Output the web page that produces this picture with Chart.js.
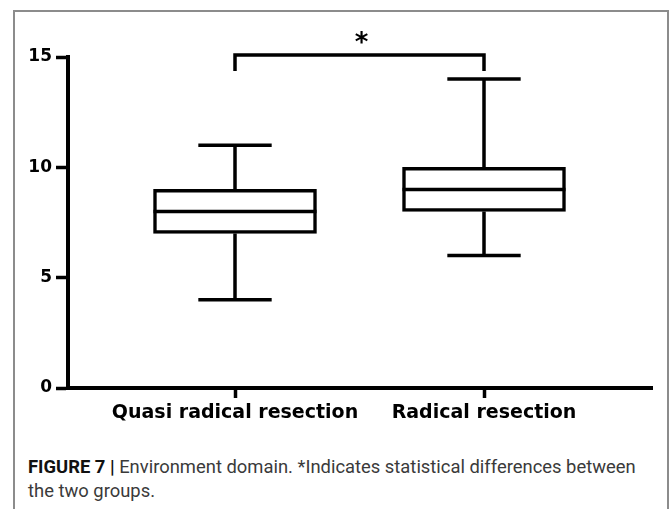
<!DOCTYPE html>
<html>
<head>
<meta charset="utf-8">
<script src="https://cdn.jsdelivr.net/npm/chart.js@4.4.1/dist/chart.umd.min.js"></script>
<style>
  body { margin: 0; background: #fff; width: 672px; height: 509px; overflow: hidden; position: relative; }
  #marco { position: absolute; left: 13px; top: 10px; width: 656px; height: 530px; border: 2px solid #8c8c8c; box-sizing: border-box; }
  #grafico { position: absolute; left: 0; top: 0; }
  #pie { position: absolute; left: 28px; top: 455px; white-space: nowrap; font-family: "Roboto", sans-serif; font-size: 18.4px; line-height: 24px; color: #3a3a3a; }
  #pie b { color: #111; }
</style>
</head>
<body>
<div id="marco"></div>
<canvas id="grafico" width="672" height="440"></canvas>
<div id="pie"><b>FIGURE 7 |</b> Environment domain. *Indicates statistical differences between<br>the two groups.</div>
<script>
// datos del box plot
const groups = ['Quasi radical resection', 'Radical resection'];
const positions = [0, 1];
const minValues = [4, 6];
const q1Values = [7, 8];
const medianValues = [8, 9];
const q3Values = [9, 10];
const maxValues = [11, 14];
const yTicks = [0, 5, 10, 15];

// corchete de significancia entre los dos grupos
const bracketTop = 15.09;
const bracketLeg = 14.36;
const starLevel = 15.87;

const bigotes = {
  id: 'bigotes',
  afterDatasetsDraw(chart) {
    const ctx = chart.ctx;
    const x = chart.scales.x;
    const y = chart.scales.y;
    const meta = chart.getDatasetMeta(0);
    ctx.save();
    ctx.strokeStyle = '#000';
    ctx.lineWidth = 3.5;
    ctx.lineCap = 'butt';
    meta.data.forEach(function (bar, i) {
      const cx = x.getPixelForValue(positions[i]);
      const half = bar.width / 2;
      const cap = bar.width * 0.45 / 2;
      ctx.beginPath();
      // mediana
      ctx.moveTo(cx - half, y.getPixelForValue(medianValues[i]));
      ctx.lineTo(cx + half, y.getPixelForValue(medianValues[i]));
      // bigote superior
      ctx.moveTo(cx, y.getPixelForValue(q3Values[i]));
      ctx.lineTo(cx, y.getPixelForValue(maxValues[i]));
      ctx.moveTo(cx - cap, y.getPixelForValue(maxValues[i]));
      ctx.lineTo(cx + cap, y.getPixelForValue(maxValues[i]));
      // bigote inferior
      ctx.moveTo(cx, y.getPixelForValue(q1Values[i]));
      ctx.lineTo(cx, y.getPixelForValue(minValues[i]));
      ctx.moveTo(cx - cap, y.getPixelForValue(minValues[i]));
      ctx.lineTo(cx + cap, y.getPixelForValue(minValues[i]));
      ctx.stroke();
    });

    // corchete y asterisco
    const x0 = x.getPixelForValue(positions[0]);
    const x1 = x.getPixelForValue(positions[1]);
    ctx.lineJoin = 'miter';
    ctx.beginPath();
    ctx.moveTo(x0, y.getPixelForValue(bracketLeg));
    ctx.lineTo(x0, y.getPixelForValue(bracketTop));
    ctx.lineTo(x1, y.getPixelForValue(bracketTop));
    ctx.lineTo(x1, y.getPixelForValue(bracketLeg));
    ctx.stroke();

    ctx.fillStyle = '#000';
    ctx.font = 'bold 26px "DejaVu Sans"';
    ctx.textAlign = 'center';
    ctx.textBaseline = 'alphabetic';
    const m = ctx.measureText('*');
    const cy = y.getPixelForValue(starLevel);
    ctx.fillText('*', (x0 + x1) / 2 + 2, cy + (m.actualBoundingBoxAscent - m.actualBoundingBoxDescent) / 2);
    ctx.restore();
  }
};

const tickFont = { family: 'DejaVu Sans', weight: 'bold' };

new Chart(document.getElementById('grafico'), {
  type: 'bar',
  data: {
    datasets: [{
      data: positions.map(function (p, i) { return { x: p, y: [q1Values[i], q3Values[i]] }; }),
      backgroundColor: '#fff',
      borderColor: '#000',
      borderWidth: 3.5,
      borderSkipped: false,
      barThickness: 163
    }]
  },
  options: {
    responsive: false,
    animation: false,
    layout: { padding: { top: 57, right: 20, left: 0, bottom: 0 } },
    plugins: { legend: { display: false }, tooltip: { enabled: false } },
    scales: {
      x: {
        type: 'linear',
        min: -0.6707,
        max: 1.6747,
        offset: false,
        afterBuildTicks: function (s) { s.ticks = positions.map(function (v) { return { value: v }; }); },
        afterFit: function (s) { s.height = 52; },
        border: { color: '#000', width: 4 },
        grid: { display: true, offset: false, drawOnChartArea: false, drawTicks: true, tickLength: 10, tickWidth: 3.5, tickColor: '#000' },
        ticks: {
          autoSkip: false,
          maxRotation: 0,
          padding: 4,
          color: '#000',
          font: Object.assign({ size: 19 }, tickFont),
          callback: function (v) { return groups[positions.indexOf(v)]; }
        }
      },
      y: {
        min: 0,
        max: 15,
        afterBuildTicks: function (s) { s.ticks = yTicks.map(function (v) { return { value: v }; }); },
        afterFit: function (s) { s.width = 68; },
        border: { color: '#000', width: 4 },
        grid: { display: true, drawOnChartArea: false, drawTicks: true, tickLength: 12, tickWidth: 3.5, tickColor: '#000' },
        ticks: { padding: 4, color: '#000', font: Object.assign({ size: 17 }, tickFont) }
      }
    }
  },
  plugins: [bigotes]
});
</script>
</body>
</html>
